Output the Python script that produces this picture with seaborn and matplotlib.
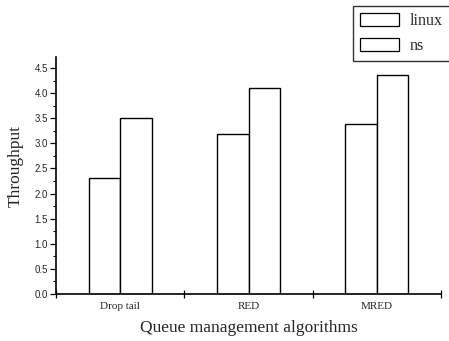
import matplotlib
matplotlib.use("Agg")
import matplotlib.pyplot as plt
import seaborn as sns
import pandas as pd
from matplotlib.patches import Patch
from matplotlib.ticker import MultipleLocator

categories = ["Drop tail", "RED", "MRED"]
linux = [2.30, 3.19, 3.39]
ns = [3.51, 4.11, 4.36]
series_names = ["linux", "ns"]
yticks = [0.0, 0.5, 1.0, 1.5, 2.0, 2.5, 3.0, 3.5, 4.0, 4.5]

df = pd.DataFrame({
    "algorithm": categories * 2,
    "series": ["linux"] * 3 + ["ns"] * 3,
    "value": linux + ns,
})

sns.set_theme(style="ticks")
plt.rcParams["font.family"] = ["Liberation Serif", "DejaVu Serif"]

fig = plt.figure(figsize=(4.49, 3.41), dpi=100)
ax = fig.add_axes([0.125, 0.138, 0.857, 0.695])

sns.barplot(data=df, x="algorithm", y="value", hue="series", order=categories,
            hue_order=series_names, palette=["white", "white"], edgecolor="black",
            linewidth=1.0, width=0.49, gap=0, ax=ax, legend=False, errorbar=None)

ax.set_ylim(0, 4.72)
ax.set_xlim(-0.5, 2.5)
ax.set_yticks(yticks)
ax.set_yticklabels([f"{v:.1f}" for v in yticks], family="Liberation Sans", fontsize=7)
ax.yaxis.set_minor_locator(MultipleLocator(0.25))
ax.tick_params(axis="y", which="major", direction="out", length=4, width=0.9, color="black", pad=2)
ax.tick_params(axis="y", which="minor", direction="out", length=2, width=0.8, color="black")

ax.set_xticks([-0.5, 0.5, 1.5, 2.5])
ax.set_xticklabels([])
ax.set_xticks([0, 1, 2], minor=True)
ax.set_xticklabels(categories, minor=True, fontsize=8)
ax.tick_params(axis="x", which="major", direction="inout", length=6, width=0.9, color="black")
ax.tick_params(axis="x", which="minor", length=0, pad=6)

for s in ["top", "right"]:
    ax.spines[s].set_visible(False)
for s in ["left", "bottom"]:
    ax.spines[s].set_color("black")
    ax.spines[s].set_linewidth(1.2)

ax.set_xlabel("Queue management algorithms", fontsize=12.5, labelpad=6)
ax.set_ylabel("Throughput", fontsize=12.5)
ax.yaxis.set_label_coords(-0.085, 0.54)

handles = [Patch(facecolor="white", edgecolor="black", linewidth=0.9, label=n) for n in series_names]
leg = fig.legend(handles=handles, loc="upper left", bbox_to_anchor=(353 / 449, 1 - 6 / 341),
                 fontsize=11.5, frameon=True, fancybox=False, edgecolor="black",
                 handlelength=2.4, handleheight=0.9, borderpad=0.45, labelspacing=0.55,
                 handletextpad=0.7, borderaxespad=0)
leg.get_frame().set_linewidth(1.0)

fig.savefig("out.png", dpi=100, facecolor="white")
